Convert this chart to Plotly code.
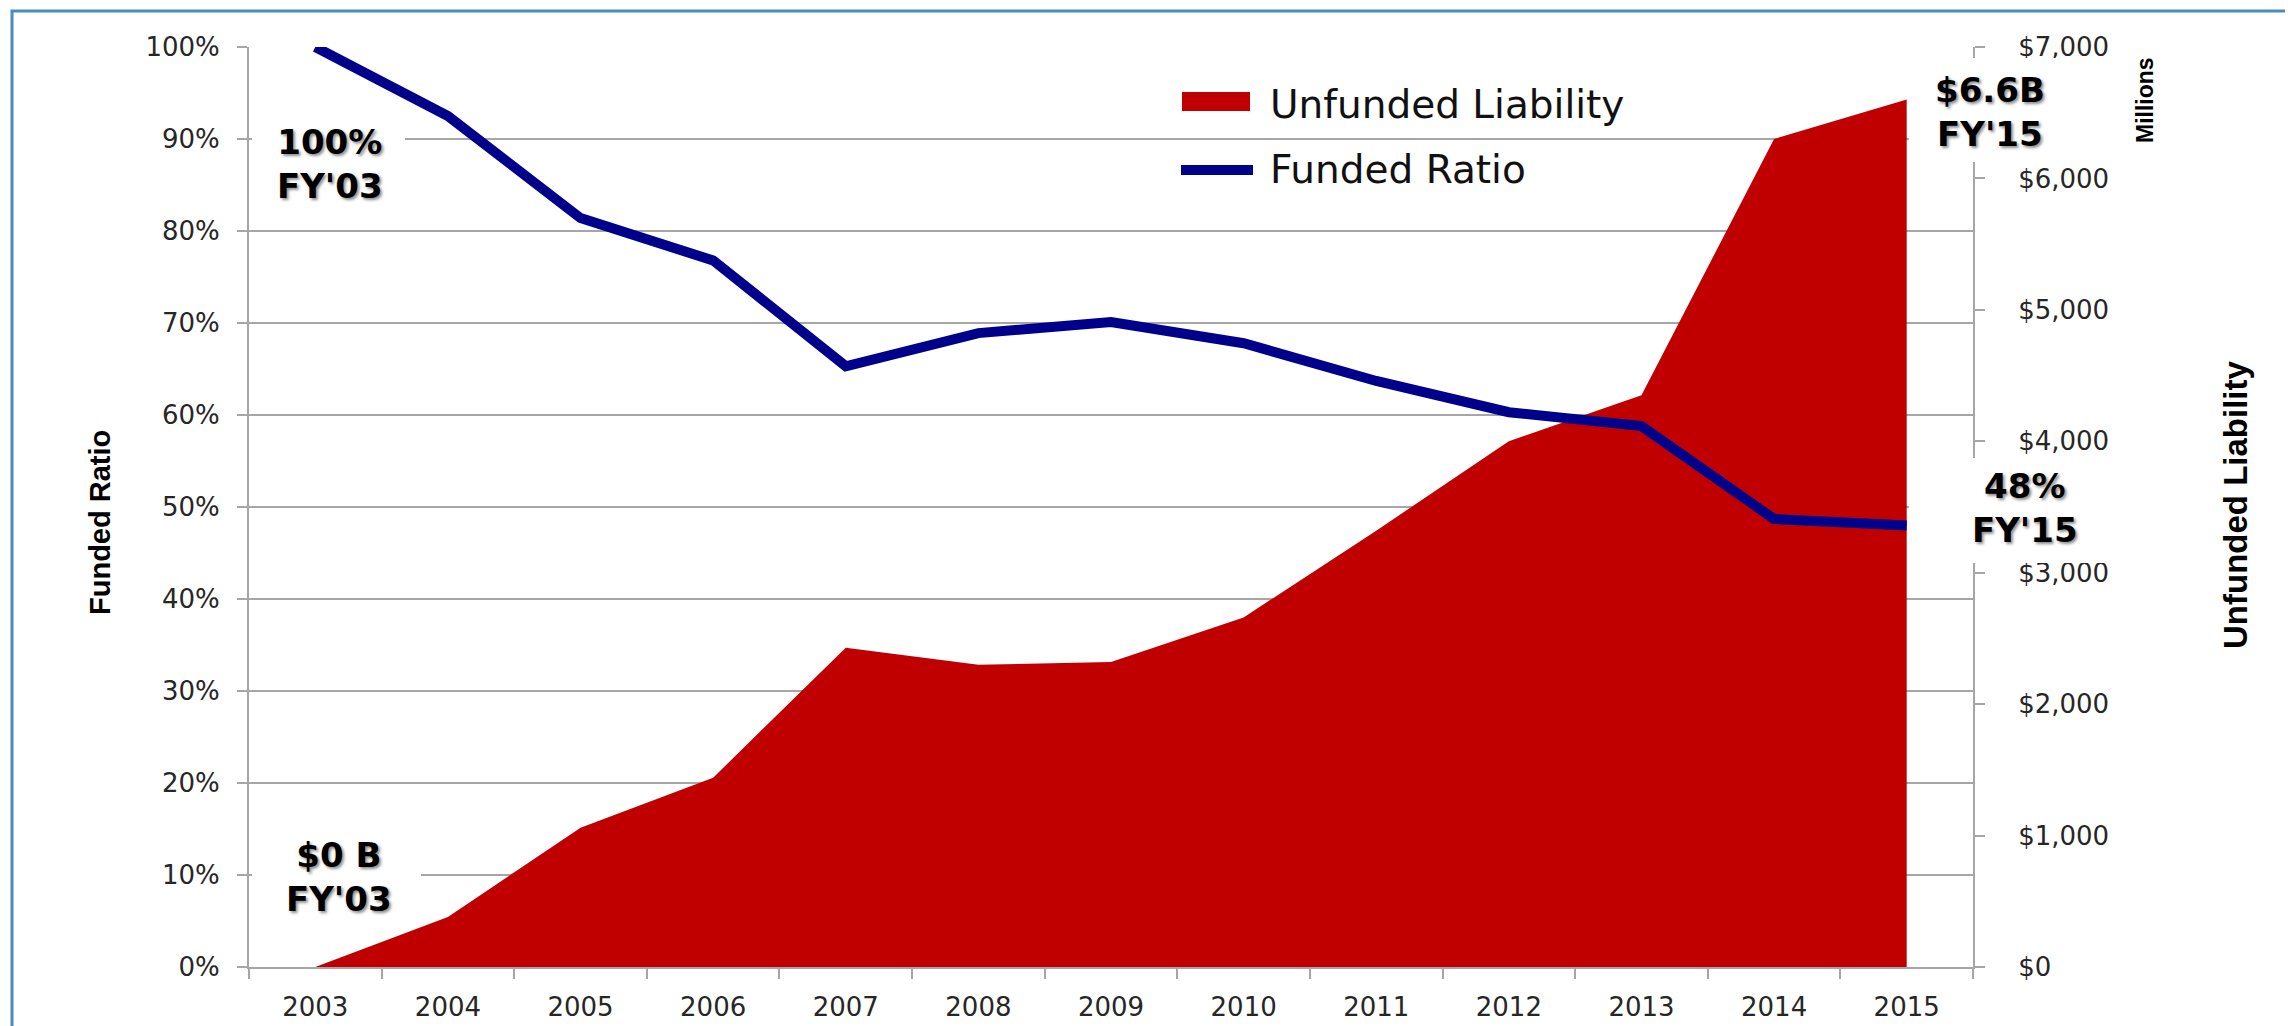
import plotly.graph_objects as go

# ---- data ----
years = ["2003", "2004", "2005", "2006", "2007", "2008", "2009",
         "2010", "2011", "2012", "2013", "2014", "2015"]
funded_ratio = [100, 92.5, 81.4, 76.8, 65.3, 68.9, 70.1, 67.8, 63.7, 60.3, 58.8, 48.7, 48.0]
unfunded_liability = [0, 380, 1060, 1440, 2430, 2300, 2320, 2660, 3320, 4000, 4350, 6300, 6600]
series_names = ["Unfunded Liability", "Funded Ratio"]

W, H = 2293, 1026
OFF = 8  # page body offset of the figure on screen
# plot area in screen pixels
SX0, SX1, SY0, SY1 = 249, 1973, 47, 967
L, R = SX0 - OFF, W - (SX1 - OFF)
T, B = SY0 - OFF, H - (SY1 - OFF)
PW, PH = SX1 - SX0, SY1 - SY0


def px(x):
    return (x - SX0) / PW


def py(y):
    return (SY1 - y) / PH


GRID = "#a6a6a6"
RED = "#C00000"
NAVY = "#00008B"
TICKFONT = dict(family="DejaVu Sans", size=26, color="#262626")

fig = go.Figure()
fig.add_trace(go.Scatter(
    x=years, y=unfunded_liability, name=series_names[0],
    mode="lines", line=dict(width=0, color=RED),
    fill="tozeroy", fillcolor=RED, yaxis="y", showlegend=False,
))
fig.add_trace(go.Scatter(
    x=years, y=funded_ratio, name=series_names[1],
    mode="lines", line=dict(width=10, color=NAVY),
    yaxis="y2", showlegend=False,
))

shadow = "2px 2px 3px rgba(0,0,0,0.45)"
bold = dict(family="DejaVu Sans", size=34, color="#000000", weight="bold", shadow=shadow)

# white label boxes (screen px)
boxes = [(252, 110, 405, 215), (252, 830, 421, 925), (1909, 58, 2075, 162), (1909, 458, 2140, 563)]
shapes = []
for x0, y0, x1, y1 in boxes:
    shapes.append(dict(type="rect", xref="paper", yref="paper", x0=px(x0), x1=px(x1),
                       y0=py(y1), y1=py(y0), fillcolor="white", line=dict(width=0), layer="above"))
# outer frame
shapes.append(dict(type="rect", xref="paper", yref="paper", x0=px(12), x1=px(W + 30),
                   y0=py(H + 30), y1=py(11), line=dict(color="#4a8cc0", width=3),
                   fillcolor="rgba(0,0,0,0)", layer="above"))
# legend swatches
shapes.append(dict(type="rect", xref="paper", yref="paper", x0=px(1182), x1=px(1250),
                   y0=py(111), y1=py(92), fillcolor=RED, line=dict(width=0), layer="above"))
shapes.append(dict(type="line", xref="paper", yref="paper", x0=px(1181), x1=px(1253),
                   y0=py(170), y1=py(170), line=dict(color=NAVY, width=10), layer="above"))

annotations = [
    dict(text="100%<br>FY'03", x=px(330), y=py(164)),
    dict(text="$0 B<br>FY'03", x=px(339), y=py(877)),
    dict(text="$6.6B<br>FY'15", x=px(1990), y=py(112)),
    dict(text="48%<br>FY'15", x=px(2025), y=py(508)),
]
annotations = [dict(a, xref="paper", yref="paper", showarrow=False, font=bold,
                    xanchor="center", yanchor="middle", align="center") for a in annotations]

title_font = dict(family="Liberation Sans", color="#000000", weight="bold")
legend_font = dict(family="DejaVu Sans", size=39, color="#111111")
extra = [
    dict(text="Funded Ratio", x=px(100), y=py(523), textangle=-90, font=dict(title_font, size=29)),
    dict(text="Unfunded Liability", x=px(2235), y=py(505), textangle=-90, font=dict(title_font, size=33)),
    dict(text="Millions", x=px(2145), y=py(100), textangle=-90, font=dict(title_font, size=23)),
    dict(text=series_names[0], x=px(1268), y=py(104), xanchor="left", font=legend_font),
    dict(text=series_names[1], x=px(1268), y=py(170), xanchor="left", font=legend_font),
]
for a in extra:
    a.setdefault("xanchor", "center")
    a.update(xref="paper", yref="paper", showarrow=False, yanchor="middle")
annotations += extra

fig.update_layout(
    width=W, height=H,
    margin=dict(l=L, r=R, t=T, b=B),
    paper_bgcolor="white", plot_bgcolor="white",
    font=dict(family="DejaVu Sans"),
    xaxis=dict(type="category", range=[-0.5, 12.5], tickson="boundaries",
               ticks="outside", ticklen=10, tickcolor=GRID, tickwidth=2,
               showline=True, linecolor=GRID, linewidth=2, showgrid=False,
               tickfont=TICKFONT, ticklabelstandoff=16),
    yaxis=dict(side="right", range=[0, 7000], dtick=1000, tickprefix="$", tickformat=",",
               showgrid=False, zeroline=False, ticks="outside", ticklen=10, tickcolor=GRID,
               tickwidth=2, showline=True, linecolor=GRID, linewidth=2,
               tickfont=TICKFONT, ticklabelstandoff=28),
    yaxis2=dict(side="left", overlaying="y", range=[0, 100], dtick=10, ticksuffix="%",
                showgrid=True, gridcolor=GRID, gridwidth=2, zeroline=False,
                ticks="outside", ticklen=10, tickcolor=GRID, tickwidth=2,
                showline=True, linecolor=GRID, linewidth=2,
                tickfont=TICKFONT, ticklabelstandoff=12),
    shapes=shapes,
    annotations=annotations,
    showlegend=False,
)

fig.write_html("out.html")
